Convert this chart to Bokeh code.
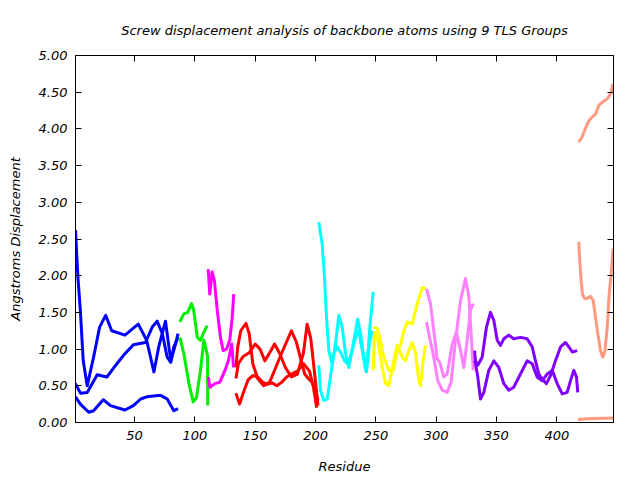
from bokeh.plotting import figure
from bokeh.models import LinearAxis, FixedTicker, NumeralTickFormatter, Range1d
from bokeh.embed import file_html
from bokeh.resources import INLINE

title_text = "Screw displacement analysis of backbone atoms using 9 TLS Groups"
x_label = "Residue"
y_label = "Angstroms Displacement"
x_ticks = [50, 100, 150, 200, 250, 300, 350, 400]
y_ticks = [0.0, 0.5, 1.0, 1.5, 2.0, 2.5, 3.0, 3.5, 4.0, 4.5, 5.0]

# Group 1 (blue)
g1a_res = [1, 3, 5, 7.4, 10.7, 16, 21, 26, 31, 42, 53, 60, 66, 70, 75.6, 80, 84, 86]
g1a_val = [2.62, 1.98, 1.53, 0.84, 0.50, 0.89, 1.30, 1.46, 1.25, 1.19, 1.34, 1.12, 0.69, 1.03, 1.38, 0.84, 1.07, 1.21]
g1b_res = [1, 5, 10.7, 19, 27, 33, 41, 49, 59, 64.6, 68.7, 73, 77, 80, 82.5, 86]
g1b_val = [0.53, 0.40, 0.41, 0.65, 0.62, 0.75, 0.92, 1.06, 1.09, 1.30, 1.38, 1.21, 0.89, 0.82, 1.03, 1.16]
g1c_res = [1, 5, 12, 16, 24, 30, 42, 49, 55, 60, 71.5, 77, 82.5, 86]
g1c_val = [0.35, 0.25, 0.14, 0.16, 0.31, 0.23, 0.17, 0.23, 0.32, 0.35, 0.37, 0.32, 0.16, 0.19]

# Group 2 (green)
g2a_res = [87.5, 90.8, 94, 97.2, 99, 102, 104.6, 107.4, 110.2]
g2a_val = [1.37, 1.48, 1.50, 1.62, 1.53, 1.16, 1.12, 1.23, 1.32]
g2b_res = [87.5, 90.8, 95, 98.6, 101.3, 104.6, 107.4, 108.8, 110.5, 110.6]
g2b_val = [1.16, 0.94, 0.53, 0.28, 0.34, 0.71, 1.12, 1.03, 0.9, 0.23]

# Group 3 (magenta)
g3a_res = [111, 112.3, 114.3, 116.2, 118.5, 121.2, 123.4, 126.2, 128.9, 130.9, 132.2]
g3a_val = [2.09, 1.75, 2.05, 1.93, 1.53, 1.16, 0.98, 1.00, 1.12, 1.43, 1.75]
g3b_res = [111, 112.5, 116.6, 120.7, 124.9, 127.7, 130.5, 132]
g3b_val = [0.62, 0.48, 0.53, 0.55, 0.71, 0.84, 1.07, 0.75]

# Group 4 (red)
g4a_res = [134, 135.5, 138, 142.3, 145, 148, 152, 157, 162, 167, 172, 176, 180, 184, 188, 191, 194, 197, 200, 202]
g4a_val = [0.75, 1.03, 1.25, 1.35, 1.21, 0.80, 0.60, 0.50, 0.55, 0.75, 0.95, 1.10, 1.25, 1.10, 0.85, 0.66, 0.60, 0.55, 0.45, 0.30]
g4b_res = [134, 136, 140, 145, 150, 154, 158, 162, 166, 170, 175, 180, 185, 190, 193, 196, 198, 200, 202]
g4b_val = [0.60, 0.80, 0.90, 0.95, 1.07, 1.00, 0.84, 0.95, 1.07, 0.95, 0.75, 0.62, 0.66, 0.95, 1.34, 1.15, 0.85, 0.55, 0.23]
g4c_res = [134, 137, 140, 144, 148, 152, 156, 160, 164, 168, 172, 176, 180, 185, 190, 195, 198, 201]
g4c_val = [0.40, 0.25, 0.40, 0.58, 0.64, 0.62, 0.55, 0.52, 0.54, 0.50, 0.55, 0.62, 0.66, 0.70, 0.80, 0.70, 0.50, 0.20]

# Group 5 (cyan)
g5a_res = [202.7, 205.5, 207.4, 209.1, 211.0, 213.8, 216.5, 219.3, 222.1, 224.8, 227.6, 231.2, 235.0, 237.8, 241.4, 243.6, 245.5, 247.8]
g5a_val = [2.73, 2.43, 1.98, 1.43, 0.98, 0.80, 1.07, 1.46, 1.30, 0.94, 0.75, 1.07, 1.41, 1.16, 0.71, 0.98, 1.39, 1.78]
g5b_res = [202.7, 204.1, 206.8, 209.7, 212.4, 215.1, 217.9, 221.3, 224.0, 226.7, 230.4, 233.1, 235.9, 238.7, 242.2, 244.7, 246.9]
g5b_val = [0.78, 0.44, 0.30, 0.32, 0.62, 0.94, 1.03, 0.94, 0.84, 0.80, 0.98, 1.16, 1.25, 0.98, 0.69, 1.07, 1.25]

# Group 6 (yellow)
g6a_res = [247.8, 251.1, 253.8, 256.6, 260.7, 264.4, 267.7, 270.4, 273.2, 276.0, 280.1, 284.3, 288.4, 291.1]
g6a_val = [1.30, 1.28, 1.12, 0.89, 0.71, 0.71, 0.98, 1.05, 1.25, 1.37, 1.34, 1.62, 1.84, 1.82]
g6b_res = [247.8, 248.9, 251.6, 255.2, 258.0, 260.7, 264.9, 267.7, 271.8, 274.6, 277.3, 280.1, 282.9, 285.6, 287.0, 289.2, 291.1]
g6b_val = [0.71, 1.23, 1.12, 0.75, 0.53, 0.50, 0.84, 1.05, 0.89, 0.84, 0.98, 1.09, 0.94, 0.57, 0.50, 0.84, 1.05]

# Group 7 (violet)
g7a_res = [292, 293.9, 295.3, 298, 300.8, 303, 306.3, 309.1, 313.3, 316.8, 320.2, 322.9, 325.7, 328.4, 330.7]
g7a_val = [1.82, 1.70, 1.62, 1.25, 0.87, 0.82, 0.62, 0.66, 1.07, 1.23, 0.98, 0.75, 1.12, 1.53, 1.62]
g7b_res = [292, 293.9, 298, 301.3, 305, 309.1, 312.4, 316, 320.2, 324.3, 327.1, 329, 330.7]
g7b_val = [1.37, 1.21, 0.89, 0.57, 0.44, 0.41, 0.55, 1.12, 1.66, 1.96, 1.71, 1.21, 0.71]

# Group 8 (purple)
g8a_res = [331.8, 332.6, 334.5, 338.1, 341.7, 345.0, 347.8, 350.6, 353.3, 356.1, 360.2, 364.3, 369.9, 375.4, 379.6, 382.3, 385.1, 387.9, 391.4, 394.8, 398.9, 403.1, 407.2, 410.0, 412.8, 416.9]
g8a_val = [0.98, 0.84, 0.78, 0.89, 1.30, 1.50, 1.39, 1.12, 1.05, 1.14, 1.19, 1.14, 1.16, 1.14, 1.03, 0.84, 0.66, 0.59, 0.53, 0.64, 0.84, 1.03, 1.09, 1.03, 0.96, 0.98]
g8b_res = [331.8, 332.6, 334.5, 336.7, 339.5, 343.6, 347.8, 351.9, 356.1, 360.2, 364.3, 369.9, 375.4, 379.6, 383.7, 387.9, 392.0, 396.2, 400.3, 404.5, 408.6, 411.4, 414.1, 416.3, 417.4]
g8b_val = [0.84, 0.80, 0.62, 0.32, 0.41, 0.71, 0.84, 0.75, 0.53, 0.44, 0.48, 0.66, 0.84, 0.80, 0.62, 0.57, 0.66, 0.71, 0.53, 0.39, 0.41, 0.57, 0.71, 0.62, 0.41]

# Group 9 (salmon)
g9a_res = [418.2, 419.0, 420.2, 421.3, 422.9, 425.2, 427.9, 430.2, 432.1, 434.0, 436.2, 438.1, 439.8, 441.8, 443.4, 444.5, 445.9, 446.7]
g9a_val = [2.46, 2.21, 1.93, 1.75, 1.69, 1.69, 1.72, 1.66, 1.43, 1.21, 0.98, 0.89, 0.96, 1.30, 1.75, 1.93, 2.21, 2.37]
g9b_res = [418.2, 421.0, 423.5, 426.5, 429.3, 432.1, 434.8, 437.6, 441.8, 443.9, 445.3, 446.4]
g9b_val = [3.82, 3.89, 4.00, 4.11, 4.16, 4.20, 4.32, 4.36, 4.41, 4.46, 4.52, 4.61]
g9c_res = [417.4, 425.2, 446.7]
g9c_val = [0.04, 0.05, 0.06]

groups = [
    ("#0000ff", [(g1a_res, g1a_val), (g1b_res, g1b_val), (g1c_res, g1c_val)]),
    ("#00ee00", [(g2a_res, g2a_val), (g2b_res, g2b_val)]),
    ("#ff00ff", [(g3a_res, g3a_val), (g3b_res, g3b_val)]),
    ("#ff0000", [(g4a_res, g4a_val), (g4b_res, g4b_val), (g4c_res, g4c_val)]),
    ("#00ffff", [(g5a_res, g5a_val), (g5b_res, g5b_val)]),
    ("#ffff00", [(g6a_res, g6a_val), (g6b_res, g6b_val)]),
    ("#ff80ff", [(g7a_res, g7a_val), (g7b_res, g7b_val)]),
    ("#8000ff", [(g8a_res, g8a_val), (g8b_res, g8b_val)]),
    ("#ff9980", [(g9a_res, g9a_val), (g9b_res, g9b_val), (g9c_res, g9c_val)]),
]

FONT = "DejaVu Sans"

p = figure(width=640, height=480, output_backend="svg", toolbar_location=None,
           x_range=Range1d(1, 447), y_range=Range1d(0, 5),
           min_border_left=75, min_border_right=27, min_border_top=55, min_border_bottom=58)
p.title.text = title_text
p.title.align = "center"
p.title.text_font = FONT
p.title.text_font_style = "italic"
p.title.text_font_size = "13px"
p.title.text_color = "black"
p.title.offset = -3
p.title.standoff = 35
p.xgrid.visible = False
p.ygrid.visible = False
p.outline_line_color = "black"
p.outline_line_width = 1
p.background_fill_color = "white"
p.border_fill_color = "white"

for color, curves in groups:
    for xs, ys in curves:
        p.line(xs, ys, line_color=color, line_width=3, line_join="round")

def style_axis(ax):
    ax.axis_line_color = "black"
    ax.major_tick_line_color = "black"
    ax.major_tick_in = 6
    ax.major_tick_out = 0
    ax.minor_tick_line_color = None
    ax.major_label_text_font = FONT
    ax.major_label_text_font_style = "italic"
    ax.major_label_text_font_size = "13px"
    ax.major_label_text_color = "black"
    ax.major_label_standoff = 8
    ax.axis_label_text_font = FONT
    ax.axis_label_text_font_style = "italic"
    ax.axis_label_text_font_size = "13px"
    ax.axis_label_text_color = "black"

xa = p.xaxis[0]
xa.ticker = FixedTicker(ticks=x_ticks)
xa.axis_label = x_label
style_axis(xa)
xa.axis_label_standoff = 16

ya = p.yaxis[0]
ya.ticker = FixedTicker(ticks=y_ticks)
ya.formatter = NumeralTickFormatter(format="0.00")
ya.axis_label = y_label
style_axis(ya)
ya.axis_label_standoff = 13

top_ax = LinearAxis(ticker=FixedTicker(ticks=x_ticks))
style_axis(top_ax)
top_ax.major_label_standoff = 0
top_ax.major_label_overrides = {t: "" for t in x_ticks}
p.add_layout(top_ax, "above")

right_ax = LinearAxis(ticker=FixedTicker(ticks=y_ticks))
style_axis(right_ax)
right_ax.major_label_standoff = 0
right_ax.major_label_overrides = {t: "" for t in y_ticks}
p.add_layout(right_ax, "right")

open("out.html", "w").write(file_html(p, INLINE))
